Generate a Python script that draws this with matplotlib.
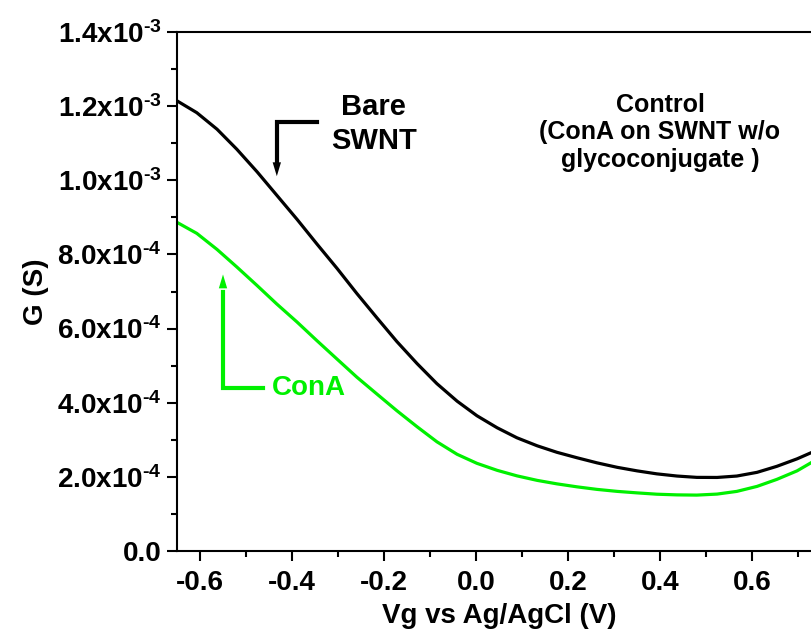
import matplotlib
matplotlib.use("Agg")
import matplotlib.pyplot as plt
from matplotlib.ticker import FixedLocator, MultipleLocator

plt.rcParams["font.family"] = ["Liberation Sans", "DejaVu Sans"]
plt.rcParams["font.weight"] = "bold"
plt.rcParams["mathtext.fontset"] = "custom"
plt.rcParams["mathtext.rm"] = "Liberation Sans:bold"
plt.rcParams["mathtext.default"] = "regular"
plt.rcParams["axes.unicode_minus"] = False

# gate voltage (V), shared by both sweeps
vg = [-0.650, -0.607, -0.563, -0.520, -0.476, -0.433, -0.389, -0.346, -0.302,
      -0.259, -0.215, -0.172, -0.128, -0.085, -0.041, 0.002, 0.046, 0.089,
      0.133, 0.176, 0.220, 0.263, 0.307, 0.350, 0.393, 0.437, 0.480, 0.524,
      0.567, 0.611, 0.654, 0.698, 0.728]

# conductance (mS) of the bare nanotube device
g_bare_ms = [1.2143, 1.1824, 1.1378, 1.0838, 1.0230, 0.9595, 0.8946, 0.8284,
             0.7622, 0.6946, 0.6284, 0.5649, 0.5054, 0.4514, 0.4041, 0.3649,
             0.3324, 0.3054, 0.2838, 0.2662, 0.2514, 0.2378, 0.2257, 0.2162,
             0.2081, 0.2022, 0.1986, 0.1984, 0.2022, 0.2122, 0.2284, 0.2486,
             0.2649]

# conductance (mS) after ConA exposure
g_cona_ms = [0.8865, 0.8568, 0.8135, 0.7662, 0.7162, 0.6662, 0.6176, 0.5676,
             0.5176, 0.4689, 0.4230, 0.3784, 0.3351, 0.2946, 0.2608, 0.2365,
             0.2176, 0.2027, 0.1905, 0.1811, 0.1730, 0.1662, 0.1608, 0.1568,
             0.1532, 0.1514, 0.1508, 0.1535, 0.1608, 0.1743, 0.1932, 0.2162,
             0.2378]

x_ticks = [-0.6, -0.4, -0.2, 0.0, 0.2, 0.4, 0.6]
x_tick_labels = ["-0.6", "-0.4", "-0.2", "0.0", "0.2", "0.4", "0.6"]
y_ticks = [0.0, 2e-4, 4e-4, 6e-4, 8e-4, 1.0e-3, 1.2e-3, 1.4e-3]
y_tick_labels = ["0.0", r"2.0x10$^{\text{-4}}$", r"4.0x10$^{\text{-4}}$",
                 r"6.0x10$^{\text{-4}}$", r"8.0x10$^{\text{-4}}$",
                 r"1.0x10$^{\text{-3}}$", r"1.2x10$^{\text{-3}}$",
                 r"1.4x10$^{\text{-3}}$"]

GREEN = "#00f000"

g_bare = [v * 1e-3 for v in g_bare_ms]
g_cona = [v * 1e-3 for v in g_cona_ms]

fig = plt.figure(figsize=(8.11, 6.34), dpi=100)
# right edge of the frame runs just past the figure border
ax = fig.add_axes([177 / 811, 83 / 634, 644 / 811, 519 / 634])

ax.plot(vg, g_bare, color="black", lw=2.3)
ax.plot(vg, g_cona, color=GREEN, lw=2.3)

ax.set_xlim(-0.65, 0.75)
ax.set_ylim(0, 1.4e-3)

ax.xaxis.set_major_locator(FixedLocator(x_ticks))
ax.set_xticklabels(x_tick_labels)
ax.xaxis.set_minor_locator(MultipleLocator(0.1))
ax.yaxis.set_major_locator(FixedLocator(y_ticks))
ax.set_yticklabels(y_tick_labels)
ax.yaxis.set_minor_locator(MultipleLocator(1e-4))

for side in ["left", "bottom", "top", "right"]:
    ax.spines[side].set_linewidth(1.5)
ax.tick_params(which="both", direction="out", width=1.5, labelsize=20,
               top=False, right=False)
ax.tick_params(which="major", length=7)
ax.tick_params(which="minor", length=4)
ax.tick_params(axis="x", which="major", pad=7)
ax.tick_params(axis="y", which="major", pad=4)

ax.set_xlabel("Vg vs Ag/AgCl (V)", fontsize=20, fontweight="bold", labelpad=5)
ax.set_ylabel("G (S)", fontsize=20, fontweight="bold", labelpad=6)

# bracket arrows pointing at each curve
ax.plot([-0.346, -0.433, -0.433], [1.157e-3, 1.157e-3, 1.05e-3],
        color="black", lw=3, solid_joinstyle="miter")
ax.annotate("", xy=(-0.433, 1.011e-3), xytext=(-0.433, 1.06e-3),
            arrowprops=dict(arrowstyle="-|>,head_width=0.3,head_length=1.0",
                            color="black", lw=0, shrinkA=0, shrinkB=0))
ax.plot([-0.463, -0.55, -0.55], [0.441e-3, 0.441e-3, 0.70e-3],
        color=GREEN, lw=3, solid_joinstyle="miter")
ax.annotate("", xy=(-0.55, 0.746e-3), xytext=(-0.55, 0.69e-3),
            arrowprops=dict(arrowstyle="-|>,head_width=0.3,head_length=1.0",
                            color=GREEN, lw=0, shrinkA=0, shrinkB=0))

ax.text(-0.222, 1.152e-3, "Bare\nSWNT", fontsize=21, fontweight="bold",
        ha="center", va="center", linespacing=1.3)
ax.text(-0.443, 0.441e-3, "ConA", fontsize=20, fontweight="bold",
        color=GREEN, ha="left", va="center")
ax.text(0.40, 1.13e-3, "Control\n(ConA on SWNT w/o\nglycoconjugate )",
        fontsize=18, fontweight="bold", ha="center", va="center",
        linespacing=1.18)

fig.savefig("out.png", dpi=100)
